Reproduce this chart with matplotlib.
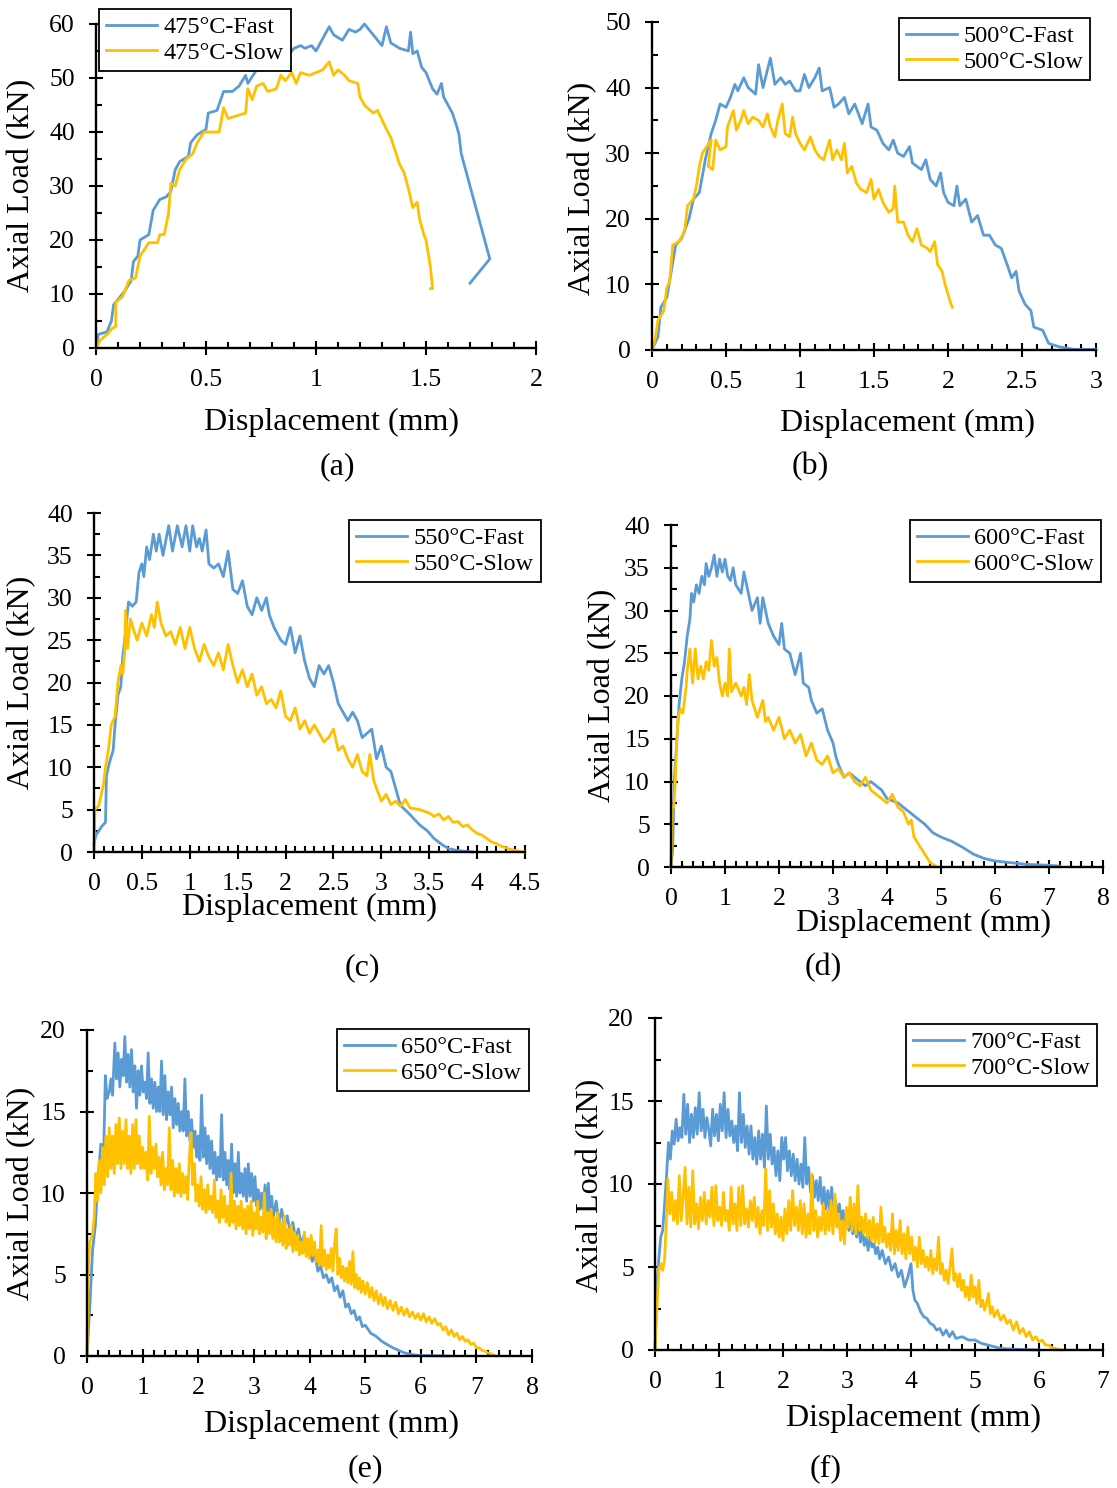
import matplotlib
matplotlib.use("Agg")
import matplotlib.pyplot as plt
from matplotlib.ticker import MultipleLocator, FuncFormatter

plt.rcParams['font.family'] = ['Liberation Serif', 'DejaVu Serif']

W, H = 1117, 1488
BLUE = '#5B9BD5'
GOLD = '#FFC000'

# ---------------- data ----------------
a_fast_x = [0, 0.01, 0.05, 0.07, 0.08, 0.10, 0.13, 0.16, 0.17, 0.19, 0.20, 0.24, 0.26, 0.29, 0.32, 0.34, 0.36, 0.38, 0.42, 0.43, 0.46, 0.50, 0.51, 0.55, 0.58, 0.62, 0.65, 0.68, 0.69, 0.73, 0.76, 0.80, 0.82, 0.85, 0.88, 0.90, 0.93, 0.95, 0.98, 1.00, 1.02, 1.04, 1.06, 1.08, 1.12, 1.15, 1.18, 1.20, 1.22, 1.25, 1.28, 1.30, 1.32, 1.34, 1.38, 1.42, 1.43, 1.44, 1.46, 1.48, 1.50, 1.53, 1.55, 1.57, 1.58, 1.60, 1.62, 1.64, 1.65, 1.66, 1.79, 1.70]
a_fast_y = [0, 2.5, 3, 5, 8, 9, 10.5, 12.5, 16, 17, 20, 21, 25.5, 27.5, 28, 29, 33, 34.5, 35.5, 38, 39.5, 40.5, 43.5, 44, 47.5, 47.5, 48.5, 50.5, 49, 51.5, 52, 53, 52.5, 54, 54.5, 55.5, 56, 55.5, 56, 55, 56.5, 58, 59.5, 58, 57, 59, 58.5, 59, 60, 58.5, 57, 56, 59.5, 56.5, 55.5, 55, 58.5, 54.5, 55, 52, 51, 48, 47, 49, 46.5, 45, 43.5, 41, 39.5, 36, 16.5, 12]
a_slow_x = [0, 0.02, 0.05, 0.07, 0.09, 0.09, 0.12, 0.15, 0.18, 0.20, 0.24, 0.28, 0.29, 0.31, 0.33, 0.34, 0.36, 0.38, 0.41, 0.44, 0.46, 0.49, 0.52, 0.56, 0.58, 0.60, 0.64, 0.68, 0.69, 0.71, 0.73, 0.76, 0.78, 0.82, 0.84, 0.86, 0.89, 0.91, 0.93, 0.97, 1.00, 1.03, 1.06, 1.08, 1.10, 1.13, 1.15, 1.19, 1.20, 1.22, 1.26, 1.28, 1.32, 1.34, 1.36, 1.38, 1.40, 1.42, 1.44, 1.46, 1.47, 1.49, 1.50, 1.52, 1.53, 1.52]
a_slow_y = [0, 1.5, 2.5, 3.5, 4, 8.5, 9.5, 12.5, 13, 17, 19.5, 19.5, 21, 21, 25, 30.5, 30, 33, 35, 36, 38, 40, 40, 40, 44.5, 42.5, 43, 43.5, 48, 46, 48.5, 49, 47.5, 48, 50.5, 49.5, 51, 49, 51, 50.5, 51, 51.5, 53, 50.5, 51.5, 50.5, 49.5, 49, 46.5, 45, 43.5, 44, 40.5, 39, 36.5, 34, 32.5, 29.5, 26, 27, 24, 21, 20, 15, 11, 11]

b_fast_x = [0, 0.04, 0.06, 0.10, 0.13, 0.16, 0.20, 0.25, 0.28, 0.32, 0.36, 0.40, 0.43, 0.46, 0.50, 0.53, 0.56, 0.58, 0.62, 0.65, 0.70, 0.72, 0.75, 0.80, 0.83, 0.87, 0.90, 0.93, 0.97, 1.00, 1.03, 1.06, 1.10, 1.13, 1.15, 1.20, 1.23, 1.26, 1.30, 1.33, 1.37, 1.42, 1.46, 1.48, 1.52, 1.56, 1.60, 1.63, 1.66, 1.70, 1.74, 1.76, 1.82, 1.85, 1.88, 1.92, 1.95, 1.97, 2.00, 2.04, 2.06, 2.08, 2.12, 2.16, 2.20, 2.24, 2.28, 2.32, 2.36, 2.40, 2.43, 2.46, 2.48, 2.52, 2.56, 2.58, 2.64, 2.68, 2.75, 2.85, 3.00]
b_fast_y = [0, 2, 6.5, 8, 12, 16, 17, 20, 23, 24, 29, 33, 35, 37.5, 37, 38.5, 40.5, 39.5, 41.5, 40, 39, 43.5, 40, 44.5, 40.5, 41.5, 40.5, 41, 39.5, 39.5, 42, 40, 41.5, 43, 39.5, 40, 37, 37.5, 38.5, 36, 37.5, 34.5, 37.5, 34, 33.5, 31.5, 30.5, 32, 30, 29.5, 31, 28.5, 27.5, 29, 26, 25, 27, 24, 22.5, 22, 25, 22, 23, 19.5, 20.5, 17.5, 17.5, 16, 15.5, 13, 11, 12, 9, 7, 6, 3.5, 3, 1, 0.5, 0.1, 0.1]
b_slow_x = [0, 0.02, 0.04, 0.08, 0.10, 0.12, 0.14, 0.18, 0.22, 0.24, 0.28, 0.30, 0.32, 0.34, 0.37, 0.40, 0.38, 0.41, 0.43, 0.46, 0.50, 0.51, 0.55, 0.57, 0.60, 0.62, 0.65, 0.68, 0.72, 0.75, 0.78, 0.80, 0.83, 0.85, 0.88, 0.90, 0.93, 0.95, 0.97, 1.00, 1.03, 1.07, 1.10, 1.13, 1.16, 1.20, 1.22, 1.25, 1.28, 1.30, 1.32, 1.35, 1.38, 1.41, 1.45, 1.48, 1.50, 1.53, 1.56, 1.60, 1.63, 1.64, 1.66, 1.70, 1.73, 1.76, 1.79, 1.82, 1.86, 1.88, 1.91, 1.93, 1.96, 1.98, 2.00, 2.02, 2.03]
b_slow_y = [0, 1.5, 4.5, 6, 9.5, 10.5, 16, 16.5, 18, 22, 23, 25, 28, 30, 31, 32, 28, 27.5, 32, 30.5, 31, 34, 36.5, 33.5, 35, 36.5, 34.5, 35.5, 35, 34, 36, 34, 32.5, 35, 37.5, 33, 32.5, 35.5, 33, 31.5, 30.5, 32.5, 30.5, 29.5, 29, 32, 29, 30.5, 29, 31.5, 27, 28, 25.5, 24.5, 24, 26, 23, 24.5, 22.5, 21, 21.5, 25, 19.5, 19.5, 17.5, 16.5, 18.5, 16, 15.5, 15, 16.5, 13, 12, 10, 8.5, 7, 6.5]

c_fast_x = [0, 0.02, 0.08, 0.12, 0.13, 0.16, 0.20, 0.22, 0.25, 0.28, 0.30, 0.33, 0.36, 0.40, 0.44, 0.47, 0.50, 0.52, 0.55, 0.58, 0.62, 0.65, 0.68, 0.72, 0.78, 0.82, 0.87, 0.92, 0.96, 1.00, 1.03, 1.07, 1.10, 1.13, 1.17, 1.20, 1.25, 1.30, 1.35, 1.40, 1.45, 1.50, 1.55, 1.60, 1.65, 1.70, 1.75, 1.80, 1.83, 1.88, 1.95, 2.00, 2.05, 2.10, 2.15, 2.20, 2.25, 2.30, 2.35, 2.40, 2.45, 2.50, 2.55, 2.60, 2.65, 2.70, 2.75, 2.80, 2.85, 2.90, 2.95, 3.00, 3.05, 3.10, 3.15, 3.20, 3.30, 3.40, 3.48, 3.55, 3.63, 3.70, 3.78, 3.90, 3.95]
c_fast_y = [1, 2, 3, 3.5, 9, 10.5, 12, 15, 18.5, 19.5, 23, 26, 29.5, 29, 29.5, 33, 34, 32.5, 36, 34.5, 37.5, 35.5, 37.5, 35, 38.5, 35.5, 38.5, 36, 38.5, 35.5, 38.5, 36, 37, 35.5, 38, 34, 33.5, 34, 32.5, 35.5, 31, 30.5, 32, 29, 28, 30, 28.5, 30, 28, 26.5, 25, 24.5, 26.5, 23.5, 25.5, 22.5, 20.5, 19.5, 22, 21, 22, 20, 17.5, 16.5, 15.5, 16.5, 15.5, 13.5, 14, 14.5, 11, 12.5, 10, 9.5, 7.5, 5.5, 4.4, 3.2, 2.5, 1.6, 0.9, 0.4, 0.2, 0.05, 0]
c_slow_x = [0, 0.01, 0.05, 0.10, 0.12, 0.15, 0.18, 0.22, 0.25, 0.28, 0.30, 0.32, 0.33, 0.35, 0.38, 0.42, 0.45, 0.50, 0.55, 0.60, 0.63, 0.66, 0.70, 0.75, 0.80, 0.85, 0.90, 0.95, 1.00, 1.05, 1.10, 1.15, 1.20, 1.25, 1.30, 1.35, 1.40, 1.45, 1.50, 1.55, 1.60, 1.65, 1.70, 1.75, 1.80, 1.85, 1.90, 1.95, 2.00, 2.05, 2.10, 2.15, 2.20, 2.25, 2.30, 2.35, 2.40, 2.45, 2.50, 2.55, 2.60, 2.65, 2.70, 2.75, 2.80, 2.85, 2.88, 2.92, 2.95, 3.00, 3.05, 3.10, 3.15, 3.20, 3.25, 3.30, 3.40, 3.50, 3.55, 3.60, 3.65, 3.70, 3.75, 3.80, 3.85, 3.90, 3.95, 4.00, 4.05, 4.10, 4.15, 4.20, 4.25, 4.30, 4.35, 4.40, 4.45, 4.50]
c_slow_y = [0, 5, 5.5, 8, 10, 12, 15, 16, 20, 22, 21, 23.5, 28.5, 24, 27.5, 26, 25, 27, 25.5, 28, 26.5, 29.5, 27, 25.5, 26, 24.5, 26.5, 24, 26.5, 24, 22.5, 24.5, 23, 22, 23.5, 21.5, 24.5, 22, 20, 21.5, 19.5, 21, 18.5, 19.5, 17.5, 18, 17, 19, 16, 15.5, 17, 14.5, 15.5, 14, 15, 14, 13, 13.5, 14.5, 12, 12.5, 11, 10, 11.5, 9.5, 9, 11.5, 8.5, 7.5, 6, 6.8, 5.6, 6.0, 5.4, 6.2, 5.2, 5.0, 4.6, 4.2, 4.5, 3.8, 4.2, 3.5, 3.6, 3.0, 3.2, 2.6, 2.2, 2.0, 1.6, 1.2, 1.0, 0.7, 0.5, 0.3, 0.2, 0.05, 0]

d_fast_x = [0, 0.03, 0.06, 0.10, 0.15, 0.20, 0.25, 0.30, 0.35, 0.38, 0.42, 0.47, 0.52, 0.57, 0.62, 0.65, 0.70, 0.75, 0.80, 0.85, 0.90, 0.95, 1.00, 1.05, 1.10, 1.15, 1.20, 1.30, 1.35, 1.45, 1.50, 1.60, 1.65, 1.70, 1.80, 1.90, 2.00, 2.05, 2.10, 2.20, 2.30, 2.40, 2.45, 2.55, 2.60, 2.70, 2.80, 2.90, 3.00, 3.05, 3.10, 3.20, 3.30, 3.40, 3.60, 3.70, 3.80, 3.90, 4.00, 4.20, 4.30, 4.50, 4.60, 4.70, 4.85, 5.00, 5.20, 5.40, 5.60, 5.80, 6.00, 6.30, 6.60, 7.00, 7.20]
d_fast_y = [0, 2, 10, 14, 19, 22, 24, 27, 29, 32, 31, 33, 32, 34, 33, 35.5, 34, 35, 36.5, 34, 36, 34.5, 36, 34, 33.5, 35, 33, 32, 34.5, 31.5, 30, 31.5, 28.5, 31.5, 28.5, 27, 26, 28.5, 25.5, 25, 22.5, 25, 21.5, 21, 19.5, 18, 18.5, 16, 14.5, 13, 12, 10.5, 11, 10.5, 9.5, 10, 9.5, 9, 8, 7.5, 7, 6, 5.5, 5, 4, 3.5, 3, 2.3, 1.5, 1, 0.7, 0.5, 0.3, 0.2, 0.1]
d_slow_x = [0, 0.02, 0.05, 0.08, 0.10, 0.13, 0.18, 0.22, 0.28, 0.30, 0.35, 0.40, 0.45, 0.50, 0.55, 0.60, 0.65, 0.70, 0.75, 0.80, 0.85, 0.90, 0.95, 1.00, 1.05, 1.08, 1.12, 1.20, 1.30, 1.35, 1.40, 1.45, 1.50, 1.60, 1.70, 1.75, 1.80, 1.90, 2.00, 2.10, 2.20, 2.30, 2.40, 2.50, 2.60, 2.70, 2.80, 2.90, 3.00, 3.10, 3.20, 3.30, 3.40, 3.50, 3.60, 3.70, 3.80, 3.90, 4.00, 4.10, 4.20, 4.30, 4.40, 4.45, 4.50, 4.60, 4.70, 4.80, 4.90]
d_slow_y = [0, 7, 7, 10, 14, 17.5, 18.5, 18, 21, 23, 25.5, 21.5, 25.5, 22, 23.5, 22, 24, 23, 26.5, 23.5, 24.5, 21.5, 20, 21.5, 20, 25.5, 20.5, 21.5, 20, 21, 19, 22.5, 19.5, 17.5, 19.5, 17, 17.5, 16, 17.5, 15, 16, 14.5, 15.5, 13, 14.5, 12.5, 12, 13, 11, 11.5, 10.5, 11, 10, 9.5, 10.5, 9, 8.5, 8, 7.5, 8.5, 7, 6.5, 5, 5.5, 3.5, 2.5, 1.5, 0.5, 0.1]

e_fast_x = [0, 0.05, 0.10, 0.15, 0.20, 0.25, 0.30, 0.33, 0.36, 0.40, 0.43, 0.46, 0.50, 0.53, 0.56, 0.59, 0.62, 0.65, 0.68, 0.71, 0.74, 0.77, 0.80, 0.83, 0.86, 0.89, 0.92, 0.95, 0.98, 1.01, 1.04, 1.07, 1.10, 1.13, 1.16, 1.19, 1.22, 1.25, 1.28, 1.31, 1.34, 1.37, 1.40, 1.43, 1.46, 1.49, 1.52, 1.55, 1.58, 1.61, 1.64, 1.67, 1.70, 1.73, 1.76, 1.79, 1.82, 1.85, 1.88, 1.91, 1.94, 1.97, 2.00, 2.03, 2.06, 2.09, 2.12, 2.15, 2.18, 2.21, 2.24, 2.27, 2.30, 2.33, 2.36, 2.39, 2.42, 2.45, 2.48, 2.51, 2.54, 2.57, 2.60, 2.63, 2.66, 2.69, 2.72, 2.75, 2.78, 2.81, 2.84, 2.87, 2.90, 2.93, 2.96, 2.99, 3.02, 3.05, 3.08, 3.11, 3.14, 3.17, 3.20, 3.23, 3.26, 3.29, 3.32, 3.35, 3.40, 3.45, 3.50, 3.55, 3.60, 3.65, 3.70, 3.75, 3.80, 3.85, 3.90, 3.95, 4.00, 4.05, 4.10, 4.15, 4.20, 4.25, 4.30, 4.35, 4.40, 4.45, 4.50, 4.55, 4.60, 4.65, 4.70, 4.75, 4.80, 4.85, 4.90, 4.95, 5.00, 5.10, 5.20, 5.30, 5.40, 5.50, 5.60, 5.70, 5.80, 5.90, 6.00, 6.50]
e_fast_y = [0, 3, 6.5, 8, 11, 13, 12.5, 17.2, 15.8, 16.2, 17.0, 16.0, 19.2, 17.0, 18.6, 16.5, 18.2, 17.2, 19.6, 16.8, 18.5, 16.5, 18.8, 16.2, 17.8, 15.2, 17.5, 16.0, 17.8, 16.2, 16.8, 15.8, 18.6, 15.5, 17.0, 15.2, 16.8, 15.0, 16.5, 15.0, 18.1, 14.8, 17.2, 14.5, 16.2, 14.8, 16.5, 14.0, 15.8, 14.2, 15.5, 13.8, 15.0, 13.8, 17.0, 13.5, 15.0, 13.2, 14.5, 12.8, 13.8, 12.2, 13.5, 12.0, 16.0, 12.2, 14.0, 11.8, 13.5, 11.5, 13.2, 11.2, 12.5, 10.8, 12.2, 11.0, 14.8, 10.8, 12.5, 10.5, 12.0, 10.2, 13.0, 10.0, 11.8, 9.8, 12.5, 10.0, 11.2, 9.8, 11.5, 9.5, 11.8, 9.8, 11.2, 9.5, 11.0, 9.2, 10.2, 9.0, 10.0, 9.0, 10.5, 8.8, 10.6, 8.8, 9.8, 8.5, 9.5, 8.2, 9.0, 8.0, 8.6, 7.6, 8.2, 7.2, 7.8, 6.8, 7.4, 6.4, 6.5, 5.8, 6.2, 5.2, 5.5, 4.8, 5.0, 4.5, 4.8, 4.0, 4.3, 3.6, 4.0, 3.0, 3.2, 2.6, 2.8, 2.2, 2.4, 1.8, 1.9, 1.4, 1.2, 0.9, 0.7, 0.5, 0.35, 0.2, 0.12, 0.06, 0.03, 0]
e_slow_x = [0, 0.02, 0.05, 0.10, 0.13, 0.16, 0.19, 0.22, 0.25, 0.28, 0.31, 0.34, 0.37, 0.40, 0.43, 0.46, 0.49, 0.52, 0.55, 0.58, 0.61, 0.64, 0.67, 0.70, 0.73, 0.76, 0.79, 0.82, 0.85, 0.88, 0.91, 0.94, 0.97, 1.00, 1.03, 1.06, 1.09, 1.12, 1.15, 1.18, 1.21, 1.24, 1.27, 1.30, 1.33, 1.36, 1.39, 1.42, 1.45, 1.48, 1.51, 1.54, 1.57, 1.60, 1.63, 1.66, 1.69, 1.72, 1.75, 1.78, 1.81, 1.84, 1.87, 1.90, 1.93, 1.96, 1.99, 2.02, 2.05, 2.08, 2.11, 2.14, 2.17, 2.20, 2.23, 2.26, 2.29, 2.32, 2.35, 2.38, 2.41, 2.44, 2.47, 2.50, 2.53, 2.56, 2.59, 2.62, 2.65, 2.68, 2.71, 2.74, 2.77, 2.80, 2.83, 2.86, 2.89, 2.92, 2.95, 2.98, 3.01, 3.04, 3.07, 3.10, 3.13, 3.16, 3.19, 3.22, 3.25, 3.28, 3.31, 3.34, 3.37, 3.40, 3.43, 3.46, 3.49, 3.52, 3.55, 3.58, 3.61, 3.64, 3.67, 3.70, 3.73, 3.76, 3.79, 3.82, 3.85, 3.88, 3.91, 3.94, 3.97, 4.00, 4.03, 4.06, 4.09, 4.12, 4.15, 4.18, 4.21, 4.24, 4.27, 4.30, 4.33, 4.36, 4.39, 4.42, 4.45, 4.48, 4.51, 4.54, 4.57, 4.60, 4.63, 4.66, 4.69, 4.72, 4.75, 4.78, 4.81, 4.84, 4.87, 4.90, 4.93, 4.96, 5.00, 5.04, 5.08, 5.12, 5.16, 5.20, 5.24, 5.28, 5.32, 5.36, 5.40, 5.45, 5.50, 5.55, 5.60, 5.65, 5.70, 5.75, 5.80, 5.85, 5.90, 5.95, 6.00, 6.05, 6.10, 6.15, 6.20, 6.25, 6.30, 6.35, 6.40, 6.45, 6.50, 6.55, 6.60, 6.65, 6.70, 6.75, 6.80, 6.85, 6.90, 6.95, 7.00, 7.05, 7.10, 7.15, 7.20, 7.25, 7.30, 7.35]
e_slow_y = [0, 5, 7, 7.5, 8.5, 11.2, 9.5, 12.0, 10.0, 12.8, 10.5, 13.5, 11.0, 14.0, 11.5, 13.5, 11.2, 14.2, 11.8, 14.6, 11.5, 13.8, 11.8, 14.5, 11.5, 13.5, 11.2, 14.2, 11.5, 14.5, 11.8, 13.5, 11.5, 12.8, 11.5, 12.5, 10.8, 14.7, 11.2, 12.8, 11.5, 13.0, 11.0, 12.2, 10.5, 12.5, 10.2, 11.5, 10.5, 14.0, 10.2, 12.0, 9.8, 11.5, 10.0, 11.8, 9.8, 11.2, 10.0, 11.0, 9.6, 12.2, 13.7, 10.5, 11.8, 9.5, 10.5, 9.2, 11.0, 9.0, 10.2, 8.8, 10.5, 9.0, 9.8, 8.8, 10.8, 8.5, 9.5, 8.2, 10.2, 8.5, 9.8, 8.2, 9.2, 8.0, 11.2, 8.2, 9.5, 7.8, 9.2, 8.0, 9.5, 7.8, 9.0, 7.5, 9.2, 7.8, 9.5, 7.4, 8.8, 7.8, 9.5, 7.5, 8.5, 7.6, 10.0, 7.2, 8.8, 7.5, 9.0, 7.2, 8.5, 7.0, 8.8, 7.0, 8.2, 6.8, 8.6, 6.6, 7.8, 6.8, 8.0, 6.4, 7.6, 6.5, 7.4, 6.2, 7.0, 6.3, 7.6, 6.1, 7.2, 6.0, 7.4, 6.2, 7.0, 5.8, 6.5, 5.6, 8.0, 5.5, 6.5, 5.3, 6.2, 5.4, 6.6, 5.2, 6.8, 7.8, 5.0, 6.0, 4.8, 5.5, 4.6, 5.4, 4.5, 5.8, 4.4, 6.4, 4.2, 5.0, 4.1, 4.8, 3.9, 4.6, 3.8, 4.5, 3.6, 4.2, 3.4, 4.0, 3.2, 3.8, 3.1, 3.6, 2.9, 3.4, 2.8, 3.3, 2.6, 3.0, 2.5, 2.9, 2.4, 2.7, 2.3, 2.6, 2.2, 2.6, 2.1, 2.4, 2.0, 2.3, 1.9, 2.0, 1.6, 1.8, 1.3, 1.6, 1.2, 1.4, 1.0, 1.2, 0.9, 1.0, 0.7, 0.8, 0.5, 0.5, 0.35, 0.3, 0.2, 0.15, 0.08, 0]

f_fast_x = [0, 0.03, 0.06, 0.09, 0.12, 0.15, 0.18, 0.21, 0.24, 0.27, 0.30, 0.33, 0.36, 0.39, 0.42, 0.45, 0.48, 0.51, 0.54, 0.57, 0.60, 0.63, 0.66, 0.69, 0.72, 0.75, 0.78, 0.81, 0.84, 0.87, 0.90, 0.93, 0.96, 0.99, 1.02, 1.05, 1.08, 1.11, 1.14, 1.17, 1.20, 1.23, 1.26, 1.29, 1.32, 1.35, 1.38, 1.41, 1.44, 1.47, 1.50, 1.53, 1.56, 1.59, 1.62, 1.65, 1.68, 1.71, 1.74, 1.77, 1.80, 1.83, 1.86, 1.89, 1.92, 1.95, 1.98, 2.01, 2.04, 2.07, 2.10, 2.13, 2.16, 2.19, 2.22, 2.25, 2.28, 2.31, 2.34, 2.37, 2.40, 2.43, 2.46, 2.49, 2.52, 2.55, 2.58, 2.61, 2.64, 2.67, 2.70, 2.73, 2.76, 2.79, 2.82, 2.85, 2.88, 2.91, 2.94, 2.97, 3.00, 3.03, 3.06, 3.09, 3.12, 3.15, 3.18, 3.21, 3.24, 3.27, 3.30, 3.33, 3.36, 3.39, 3.42, 3.45, 3.48, 3.51, 3.55, 3.60, 3.65, 3.70, 3.75, 3.80, 3.85, 3.90, 3.95, 4.00, 4.03, 4.06, 4.10, 4.15, 4.20, 4.25, 4.30, 4.35, 4.40, 4.45, 4.50, 4.55, 4.60, 4.65, 4.70, 4.80, 4.90, 5.00, 5.10, 5.20, 5.30, 5.40, 5.60, 6.00]
f_fast_y = [0, 4, 5.5, 6.8, 7.2, 8.8, 10.5, 12.5, 11.5, 13.2, 12.4, 13.9, 12.6, 13.4, 12.8, 15.4, 13.0, 14.8, 12.5, 14.2, 12.8, 14.6, 13.0, 15.5, 13.2, 14.5, 12.8, 14.0, 13.3, 12.3, 14.5, 12.9, 14.2, 12.6, 14.8, 13.2, 15.5, 12.8, 14.5, 12.9, 13.8, 12.5, 13.5, 12.0, 15.5, 12.5, 14.2, 12.2, 13.5, 11.8, 13.5, 11.5, 12.8, 11.2, 13.2, 11.5, 13.0, 11.0, 14.7, 11.5, 13.0, 11.2, 12.2, 10.5, 12.0, 10.2, 12.8, 11.5, 12.8, 10.8, 12.0, 10.5, 11.8, 10.2, 11.5, 10.0, 11.2, 9.8, 12.8, 10.0, 11.0, 9.5, 10.5, 9.2, 10.2, 9.0, 10.4, 8.8, 9.8, 8.5, 9.6, 8.4, 9.8, 8.2, 9.0, 8.0, 8.8, 7.8, 8.4, 7.4, 8.0, 7.2, 7.8, 7.0, 7.5, 6.8, 7.8, 6.5, 7.2, 6.3, 6.8, 6.0, 6.8, 6.2, 6.4, 5.8, 6.2, 5.5, 6.0, 5.2, 5.6, 4.8, 5.2, 4.4, 4.8, 3.8, 4.4, 5.2, 3.6, 3.0, 2.8, 2.3, 2.0, 1.9, 1.6, 1.5, 1.2, 1.3, 0.9, 1.2, 0.8, 1.1, 0.7, 0.8, 0.6, 0.6, 0.4, 0.3, 0.2, 0.1, 0.05, 0]
f_slow_x = [0, 0.03, 0.06, 0.09, 0.12, 0.15, 0.18, 0.20, 0.23, 0.26, 0.29, 0.32, 0.35, 0.38, 0.41, 0.44, 0.47, 0.50, 0.53, 0.56, 0.59, 0.62, 0.65, 0.68, 0.71, 0.74, 0.77, 0.80, 0.83, 0.86, 0.89, 0.92, 0.95, 0.98, 1.01, 1.04, 1.07, 1.10, 1.13, 1.16, 1.19, 1.22, 1.25, 1.28, 1.31, 1.34, 1.37, 1.40, 1.43, 1.46, 1.49, 1.52, 1.55, 1.58, 1.61, 1.64, 1.67, 1.70, 1.73, 1.76, 1.79, 1.82, 1.85, 1.88, 1.91, 1.94, 1.97, 2.00, 2.03, 2.06, 2.09, 2.12, 2.15, 2.18, 2.21, 2.24, 2.27, 2.30, 2.33, 2.36, 2.39, 2.42, 2.45, 2.48, 2.51, 2.54, 2.57, 2.60, 2.63, 2.66, 2.69, 2.72, 2.75, 2.78, 2.81, 2.84, 2.87, 2.90, 2.93, 2.96, 2.99, 3.02, 3.05, 3.08, 3.11, 3.14, 3.17, 3.20, 3.23, 3.26, 3.29, 3.32, 3.35, 3.38, 3.41, 3.44, 3.47, 3.50, 3.53, 3.56, 3.59, 3.62, 3.65, 3.68, 3.71, 3.74, 3.77, 3.80, 3.83, 3.86, 3.89, 3.92, 3.95, 3.98, 4.01, 4.04, 4.07, 4.10, 4.13, 4.16, 4.19, 4.22, 4.25, 4.28, 4.31, 4.34, 4.37, 4.40, 4.43, 4.46, 4.49, 4.52, 4.55, 4.58, 4.61, 4.64, 4.67, 4.70, 4.73, 4.76, 4.79, 4.82, 4.85, 4.88, 4.91, 4.94, 4.97, 5.00, 5.03, 5.06, 5.09, 5.12, 5.15, 5.18, 5.21, 5.24, 5.27, 5.30, 5.35, 5.40, 5.45, 5.50, 5.55, 5.60, 5.65, 5.70, 5.75, 5.80, 5.85, 5.90, 5.95, 6.00, 6.05, 6.10, 6.15, 6.20, 6.25, 6.30, 6.35]
f_slow_y = [0, 2.5, 4.8, 5.2, 4.8, 5.5, 8.0, 10.3, 8.2, 9.5, 7.8, 9.0, 7.6, 10.5, 7.8, 9.2, 11.0, 7.6, 9.8, 7.4, 10.8, 7.6, 8.8, 7.3, 9.2, 7.8, 9.5, 7.6, 9.0, 8.0, 9.8, 7.5, 9.9, 7.8, 8.6, 7.5, 9.5, 7.8, 8.4, 7.2, 9.8, 7.6, 8.8, 7.2, 9.8, 7.5, 9.9, 7.6, 8.5, 7.4, 9.0, 7.8, 9.2, 7.4, 8.6, 7.0, 8.4, 7.5, 10.9, 7.2, 9.6, 7.4, 8.8, 7.0, 8.2, 6.8, 8.0, 6.6, 8.5, 7.0, 9.0, 7.2, 9.6, 7.5, 8.6, 7.2, 9.0, 7.0, 8.8, 6.8, 8.2, 7.0, 10.6, 7.2, 8.4, 6.8, 8.0, 7.2, 8.8, 7.0, 8.4, 7.2, 9.0, 7.0, 9.4, 7.4, 8.2, 6.6, 7.8, 6.4, 8.6, 7.4, 9.2, 7.2, 8.8, 7.0, 9.9, 7.2, 8.0, 7.0, 8.2, 6.8, 7.8, 6.6, 8.0, 6.5, 7.6, 6.4, 8.6, 6.5, 7.4, 6.2, 7.0, 6.0, 8.2, 5.8, 7.2, 6.0, 7.8, 5.8, 7.0, 5.5, 7.4, 5.8, 6.8, 5.4, 6.2, 5.0, 6.8, 5.2, 6.0, 5.0, 5.6, 4.8, 6.0, 4.6, 5.5, 4.8, 6.8, 4.6, 5.2, 4.2, 4.8, 4.0, 5.0, 6.1, 4.2, 4.6, 3.8, 4.6, 3.6, 4.2, 3.2, 3.8, 3.0, 4.5, 3.2, 3.8, 2.8, 4.2, 2.6, 3.0, 2.4, 2.8, 3.4, 2.2, 2.6, 2.0, 2.4, 1.8, 2.1, 1.6, 1.8, 1.2, 1.7, 1.0, 1.3, 0.8, 1.1, 0.6, 0.8, 0.5, 0.6, 0.3, 0.3, 0.15, 0.1, 0.05, 0]

temps = ['475', '500', '550', '600', '650', '700']
panel_tags = ['(a)', '(b)', '(c)', '(d)', '(e)', '(f)']
fast_x = [a_fast_x, b_fast_x, c_fast_x, d_fast_x, e_fast_x, f_fast_x]
fast_y = [a_fast_y, b_fast_y, c_fast_y, d_fast_y, e_fast_y, f_fast_y]
slow_x = [a_slow_x, b_slow_x, c_slow_x, d_slow_x, e_slow_x, f_slow_x]
slow_y = [a_slow_y, b_slow_y, c_slow_y, d_slow_y, e_slow_y, f_slow_y]
x_max = [2, 3, 4.5, 8, 8, 7]
y_max = [60, 50, 40, 40, 20, 20]

# ---------------- layout (pixels in the 1117x1488 figure) ----------------
axes_px = [(96, 536, 24, 348), (652, 1096, 22, 350), (94, 525, 513, 852),
           (671, 1103, 525, 867), (87, 532, 1030, 1356), (655, 1103, 1018, 1350)]
x_major = [0.5, 0.5, 0.5, 1, 1, 1]
x_minor = [0.1, 0.1, 0.1, 0.2, 0.2, 0.2]
y_major = [10, 10, 5, 5, 5, 5]
y_minor = [5, 5, 2.5, 2.5, 2.5, 2.5]
xlabel_px = [(331, 422), (908, 423), (310, 907), (923, 923), (331, 1424), (913, 1418)]
ylabel_px = [(22, 185), (583, 188), (22, 682), (603, 695), (22, 1193), (591, 1185)]
tag_px = [(337, 467), (810, 467), (362, 968), (823, 968), (365, 1469), (826, 1469)]
legend_px = [(99, 9), (899, 18), (349, 520), (910, 520), (337, 1029), (906, 1024)]

fig = plt.figure(figsize=(W / 100, H / 100), dpi=100)

fmt = FuncFormatter(lambda v, p: '%g' % v)

for i in range(6):
    l, r, t, b = axes_px[i]
    ax = fig.add_axes([l / W, 1 - b / H, (r - l) / W, (b - t) / H])
    ax.plot(fast_x[i], fast_y[i], color=BLUE, lw=2.0, label=temps[i] + '°C-Fast',
            solid_joinstyle='round', clip_on=False)
    ax.plot(slow_x[i], slow_y[i], color=GOLD, lw=2.0, label=temps[i] + '°C-Slow',
            solid_joinstyle='round', clip_on=False)
    ax.set_xlim(0, x_max[i])
    ax.set_ylim(0, y_max[i])
    for s in ('top', 'right'):
        ax.spines[s].set_visible(False)
    for s in ('left', 'bottom'):
        ax.spines[s].set_linewidth(1.7)
    ax.xaxis.set_major_locator(MultipleLocator(x_major[i]))
    ax.xaxis.set_minor_locator(MultipleLocator(x_minor[i]))
    ax.yaxis.set_major_locator(MultipleLocator(y_major[i]))
    ax.yaxis.set_minor_locator(MultipleLocator(y_minor[i]))
    ax.xaxis.set_major_formatter(fmt)
    ax.yaxis.set_major_formatter(fmt)
    ax.tick_params(which='major', direction='inout', length=9.5, width=1.5,
                   labelsize=18.5, pad=10.5, color='black')
    ax.tick_params(which='minor', direction='in', length=4, width=1.5, color='black')
    ax.patch.set_alpha(0)

    leg = ax.legend(loc='upper left',
                    bbox_to_anchor=(legend_px[i][0] / W, 1 - legend_px[i][1] / H),
                    bbox_transform=fig.transFigure, borderaxespad=0,
                    fontsize=17.5, frameon=True, fancybox=False, framealpha=1,
                    edgecolor='black', handlelength=2.1, handletextpad=0.25,
                    labelspacing=0.15, borderpad=0.3)
    leg.get_frame().set_linewidth(1.3)

    fig.text(xlabel_px[i][0] / W, 1 - xlabel_px[i][1] / H, 'Displacement (mm)',
             ha='center', va='center', fontsize=23)
    fig.text(ylabel_px[i][0] / W, 1 - ylabel_px[i][1] / H, 'Axial Load (kN)',
             ha='center', va='center', rotation=90, fontsize=23)
    fig.text(tag_px[i][0] / W, 1 - tag_px[i][1] / H, panel_tags[i],
             ha='center', va='center', fontsize=23)

fig.savefig('out.png', dpi=100)
